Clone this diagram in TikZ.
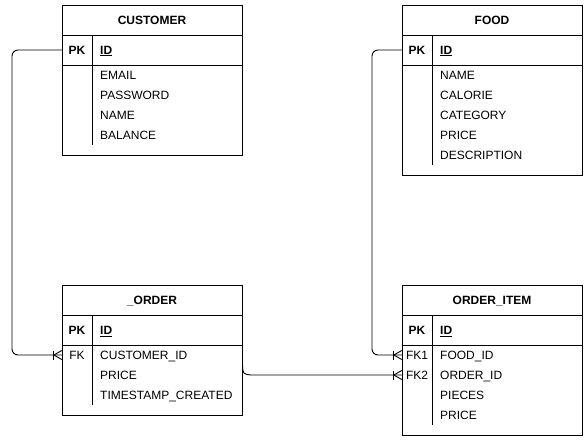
\documentclass[tikz,border=0pt]{standalone}
\usepackage{fontspec}
\setmainfont{Liberation Sans}
\usetikzlibrary{calc}
\tikzset{
  tbl/.style={draw, line width=0.9pt, minimum width=180pt, anchor=north west, inner sep=0pt},
  keycol/.style={minimum width=30pt, inner sep=0pt, text height=8.6pt, text depth=0pt, anchor=center, font=\fontsize{12}{14}\selectfont},
  fld/.style={anchor=west, inner sep=0pt, text height=8.6pt, text depth=0pt, font=\fontsize{12}{14}\selectfont},
  ttl/.style={anchor=center, inner sep=0pt, text height=8.6pt, text depth=0pt, font=\bfseries\fontsize{12}{14}\selectfont},
  bld/.style={font=\bfseries\fontsize{12}{14}\selectfont},
  sep/.style={line width=0.9pt},
  conn/.style={line width=0.9pt, rounded corners=6pt},
  crow/.style={line width=0.9pt}
}
\newcommand{\crowfoot}[1]{%
  \draw[crow] ($(#1.west)+(-8,0)$) -- ($(#1.west)+(0,-4.5)$);
  \draw[crow] ($(#1.west)+(-8,0)$) -- ($(#1.west)+(0,4.5)$);
  \draw[crow] ($(#1.west)+(-8,-4.5)$) -- ($(#1.west)+(-8,4.5)$);
}
\begin{document}
\begin{tikzpicture}[x=1pt,y=-1pt]
\useasboundingbox (0,0) rectangle (588,441);
\fill[white] (0,0) rectangle (588,441);

% CUSTOMER
\node[tbl, minimum height=150pt] (customer) at (62,5) {};
\draw[sep] (62,35) -- (242,35);
\draw[sep] (62,65) -- (242,65);
\draw[sep] (92,35) -- (92,145);
\node[ttl] (customer-t) at (152,20) {CUSTOMER};
\node[keycol, bld] (customer-pk) at (77,50) {PK};
\node[fld, bld] (customer-id) at (100,50) {\underline{ID}};
\node[fld] (customer-f1) at (100,75) {EMAIL};
\node[fld] (customer-f2) at (100,95) {PASSWORD};
\node[fld] (customer-f3) at (100,115) {NAME};
\node[fld] (customer-f4) at (100,135) {BALANCE};

% FOOD
\node[tbl, minimum height=170pt] (food) at (402,5) {};
\draw[sep] (402,35) -- (582,35);
\draw[sep] (402,65) -- (582,65);
\draw[sep] (432,35) -- (432,165);
\node[ttl] (food-t) at (492,20) {FOOD};
\node[keycol, bld] (food-pk) at (417,50) {PK};
\node[fld, bld] (food-id) at (440,50) {\underline{ID}};
\node[fld] (food-f1) at (440,75) {NAME};
\node[fld] (food-f2) at (440,95) {CALORIE};
\node[fld] (food-f3) at (440,115) {CATEGORY};
\node[fld] (food-f4) at (440,135) {PRICE};
\node[fld] (food-f5) at (440,155) {DESCRIPTION};

% _ORDER
\node[tbl, minimum height=130pt] (order) at (62,285) {};
\draw[sep] (62,315) -- (242,315);
\draw[sep] (62,345) -- (242,345);
\draw[sep] (92,315) -- (92,405);
\node[ttl] (order-t) at (152,300) {\_ORDER};
\node[keycol, bld] (order-pk) at (77,330) {PK};
\node[fld, bld] (order-id) at (100,330) {\underline{ID}};
\node[keycol] (order-fk) at (77,355) {FK};
\node[fld] (order-f1) at (100,355) {CUSTOMER\_ID};
\node[fld] (order-f2) at (100,375) {PRICE};
\node[fld] (order-f3) at (100,395) {TIMESTAMP\_CREATED};
\coordinate (order-out) at (242.5,365);

% ORDER_ITEM
\node[tbl, minimum height=150pt] (item) at (402,285) {};
\draw[sep] (402,315) -- (582,315);
\draw[sep] (402,345) -- (582,345);
\draw[sep] (432,315) -- (432,425);
\node[ttl] (item-t) at (492,300) {ORDER\_ITEM};
\node[keycol, bld] (item-pk) at (417,330) {PK};
\node[fld, bld] (item-id) at (440,330) {\underline{ID}};
\node[keycol] (item-fk1) at (417,355) {FK1};
\node[keycol] (item-fk2) at (417,375) {FK2};
\node[fld] (item-f1) at (440,355) {FOOD\_ID};
\node[fld] (item-f2) at (440,375) {ORDER\_ID};
\node[fld] (item-f3) at (440,395) {PIECES};
\node[fld] (item-f4) at (440,415) {PRICE};

% connectors
\draw[conn] (customer-pk.west) -| (12,200) |- (order-fk.west);
\draw[conn] (food-pk.west) -| (372,200) |- (item-fk1.west);
\draw[line width=0.9pt] (order-out) .. controls (243,374) .. (251,375) -- (item-fk2.west);
\crowfoot{order-fk}
\crowfoot{item-fk1}
\crowfoot{item-fk2}
\end{tikzpicture}
\end{document}
